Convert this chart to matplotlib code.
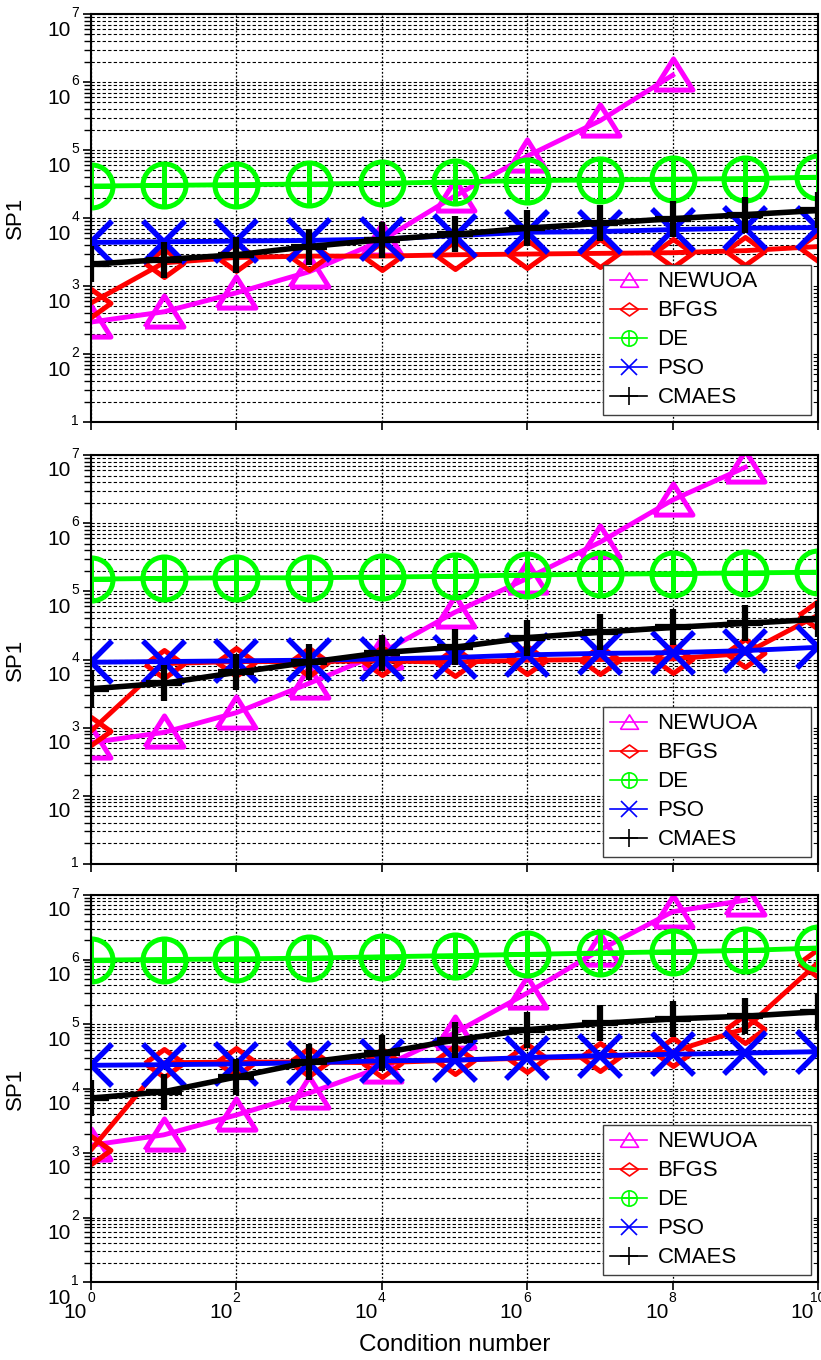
import matplotlib
matplotlib.use("Agg")
import matplotlib.pyplot as plt
from matplotlib.lines import Line2D
from matplotlib.legend_handler import HandlerTuple
from matplotlib.ticker import LogLocator, NullLocator, NullFormatter

plt.rcParams['font.family'] = ['Liberation Sans', 'DejaVu Sans']

# condition numbers 10^0 .. 10^10
cond = [1e0, 1e1, 1e2, 1e3, 1e4, 1e5, 1e6, 1e7, 1e8, 1e9, 1e10]
names = ["NEWUOA", "BFGS", "DE", "PSO", "CMAES"]

# panel 1
newuoa_1 = [295, 417, 794, 1620, 4680, 2.09e4, 8.13e4, 2.69e5, 1.26e6]
bfgs_1 = [562, 2190, 2630, 2750, 2750, 2880, 2950, 3020, 3090, 3310, 3800]
de_1 = [2.95e4, 3.02e4, 3.09e4, 3.16e4, 3.24e4, 3.39e4, 3.55e4, 3.63e4, 3.72e4, 3.80e4, 3.98e4]
pso_1 = [4370, 4470, 4570, 4680, 4900, 5500, 6170, 6310, 6760, 7080, 7240]
cmaes_1 = [2090, 2450, 2880, 3800, 4790, 5750, 7080, 8320, 9770, 1.12e4, 1.29e4]

# panel 2
newuoa_2 = [603, 851, 1660, 4470, 1.26e4, 4.90e4, 1.55e5, 5.25e5, 2.19e6, 6.61e6]
bfgs_2 = [891, 8710, 9330, 9330, 9550, 9120, 9770, 1.0e4, 1.02e4, 1.23e4, 4.47e4]
de_2 = [1.51e5, 1.55e5, 1.58e5, 1.58e5, 1.62e5, 1.66e5, 1.74e5, 1.78e5, 1.82e5, 1.86e5, 1.91e5]
pso_2 = [9120, 9330, 9550, 9770, 1.02e4, 1.07e4, 1.17e4, 1.23e4, 1.26e4, 1.35e4, 1.51e4]
cmaes_2 = [3720, 4470, 6460, 9120, 1.26e4, 1.51e4, 2.09e4, 2.51e4, 2.95e4, 3.39e4, 3.89e4]

# panel 3
newuoa_3 = [1320, 1910, 3890, 8510, 2.14e4, 7.24e4, 3.02e5, 1.41e6, 5.50e6, 8.32e6]
bfgs_3 = [1120, 2.51e4, 2.57e4, 2.57e4, 2.51e4, 2.75e4, 2.95e4, 3.09e4, 3.72e4, 8.51e4, 8.91e5]
de_3 = [9.77e5, 1.0e6, 1.02e6, 1.05e6, 1.10e6, 1.15e6, 1.20e6, 1.26e6, 1.32e6, 1.38e6, 1.51e6]
pso_3 = [2.29e4, 2.34e4, 2.40e4, 2.51e4, 2.69e4, 2.75e4, 3.02e4, 3.24e4, 3.39e4, 3.55e4, 3.72e4]
cmaes_3 = [7080, 8910, 1.51e4, 2.57e4, 3.55e4, 5.62e4, 8.13e4, 1.02e5, 1.20e5, 1.32e5, 1.55e5]

panels = [
    [newuoa_1, bfgs_1, de_1, pso_1, cmaes_1],
    [newuoa_2, bfgs_2, de_2, pso_2, cmaes_2],
    [newuoa_3, bfgs_3, de_3, pso_3, cmaes_3],
]

y_exps = [1, 2, 3, 4, 5, 6, 7]
x_exps = [0, 2, 4, 6, 8, 10]

colors = ["#FF00FF", "#FF0000", "#00FF00", "#0000FF", "#000000"]
tri = [(-1, -0.75), (1, -0.75), (0, 0.85), (-1, -0.75)]
dia = [(-1, 0), (0, 0.72), (1, 0), (0, -0.72), (-1, 0)]

W, H = 821, 1360
# axes boxes in pixels: left, top, right, bottom
boxes = [(91, 14, 818, 422), (91, 455, 818, 864), (91, 895, 818, 1282)]

fig = plt.figure(figsize=(W / 100, H / 100), dpi=100)
px = 0.72  # points per pixel


def draw_series(ax, data):
    nw, bf, de, ps, cm = data
    ax.plot(cond[:len(nw)], nw, color=colors[0], lw=3.5, marker=tri, ms=28,
            mew=3.6, mfc='none')
    ax.plot(cond[:len(bf)], bf, color=colors[1], lw=3.5, marker=dia, ms=28,
            mew=3.6, mfc='none')
    ax.plot(cond[:len(de)], de, color=colors[2], lw=3.5, marker='o', ms=31,
            mew=3.6, mfc='none')
    ax.plot(cond[:len(de)], de, color=colors[2], ls='none', marker='+', ms=31,
            mew=3.6)
    ax.plot(cond[:len(ps)], ps, color=colors[3], lw=3.5, marker='x', ms=30,
            mew=4)
    ax.plot(cond[:len(cm)], cm, color=colors[4], lw=4, marker='+', ms=26,
            mew=4.5)


for i, (box, data) in enumerate(zip(boxes, panels)):
    l, t, r, b = box
    ax = fig.add_axes([l / W, 1 - b / H, (r - l) / W, (b - t) / H])
    ax.set_xscale('log')
    ax.set_yscale('log')
    ax.set_xlim(1, 1e10)
    ax.set_ylim(10, 1e7)

    draw_series(ax, data)

    ax.set_xticks([10.0 ** e for e in x_exps])
    ax.xaxis.set_minor_locator(NullLocator())
    ax.set_yticks([10.0 ** e for e in y_exps])
    ax.yaxis.set_minor_locator(LogLocator(base=10, subs=range(2, 10)))
    ax.yaxis.set_minor_formatter(NullFormatter())
    ax.set_xticklabels([])
    ax.set_yticklabels([])
    ax.tick_params(which='both', direction='out', length=6, width=1.2)
    ax.tick_params(which='minor', length=5, width=1.0)

    ax.grid(True, axis='y', which='both', color='black', lw=0.8,
            ls=(0, (3, 2)))
    ax.grid(True, axis='x', which='major', color='black', lw=0.9,
            ls=(0, (1.5, 1.5)))
    ax.set_axisbelow(True)
    for s in ax.spines.values():
        s.set_linewidth(1.5)

    # y tick labels as "10" with raised exponent
    for e in y_exps:
        ax.annotate(str(e), xy=(0, 10.0 ** e), xycoords=('axes fraction', 'data'),
                    xytext=(-16 * px, 1 * px), textcoords='offset points',
                    ha='center', va='center', fontsize=10,
                    annotation_clip=False)
        if e > 1 or i == 2:
            ax.annotate("10", xy=(0, 10.0 ** e), xycoords=('axes fraction', 'data'),
                        xytext=(-20 * px, -16 * px), textcoords='offset points',
                        ha='right', va='center', fontsize=15,
                        annotation_clip=False)

    ax.set_ylabel("SP1", fontsize=16)
    ax.yaxis.set_label_coords(-(91 - 26) / 727, 0.5)

    if i == 2:
        for e in x_exps:
            ax.annotate(str(e), xy=(10.0 ** e, 0), xycoords=('data', 'axes fraction'),
                        xytext=(0, -16 * px), textcoords='offset points',
                        ha='center', va='center', fontsize=10,
                        annotation_clip=False)
            ax.annotate("10", xy=(10.0 ** e, 0), xycoords=('data', 'axes fraction'),
                        xytext=(-4 * px, -31 * px), textcoords='offset points',
                        ha='right', va='center', fontsize=15,
                        annotation_clip=False)
        ax.set_xlabel("Condition number", fontsize=17.5)
        ax.xaxis.set_label_coords(0.5, -(1334 - 1282) / 387)

    # legend with small markers, wide box like the original
    h_nw = Line2D([], [], color=colors[0], lw=1.2, marker=tri, ms=13, mew=1.2, mfc='none')
    h_bf = Line2D([], [], color=colors[1], lw=1.2, marker=dia, ms=13, mew=1.2, mfc='none')
    h_de1 = Line2D([], [], color=colors[2], lw=1.2, marker='o', ms=11, mew=1.2, mfc='none')
    h_de2 = Line2D([], [], color=colors[2], ls='none', marker='+', ms=11, mew=1.2)
    h_ps = Line2D([], [], color=colors[3], lw=1.2, marker='x', ms=12, mew=1.2)
    h_cm = Line2D([], [], color=colors[4], lw=1.2, marker='+', ms=13, mew=1.2)
    ah = b - t
    leg = ax.legend([h_nw, h_bf, (h_de1, h_de2), h_ps, h_cm], names,
                    handler_map={tuple: HandlerTuple(ndivide=1)},
                    loc='lower left', mode='expand',
                    bbox_to_anchor=((603 - 91) / 727, 7 / ah, (811 - 603) / 727, 0),
                    fontsize=16, fancybox=False,
                    framealpha=1, edgecolor='0.25', borderaxespad=0,
                    handlelength=1.7, handletextpad=0.45, labelspacing=0.36,
                    borderpad=0.3)
    leg.get_frame().set_linewidth(1.0)

fig.savefig("out.png", dpi=100)
